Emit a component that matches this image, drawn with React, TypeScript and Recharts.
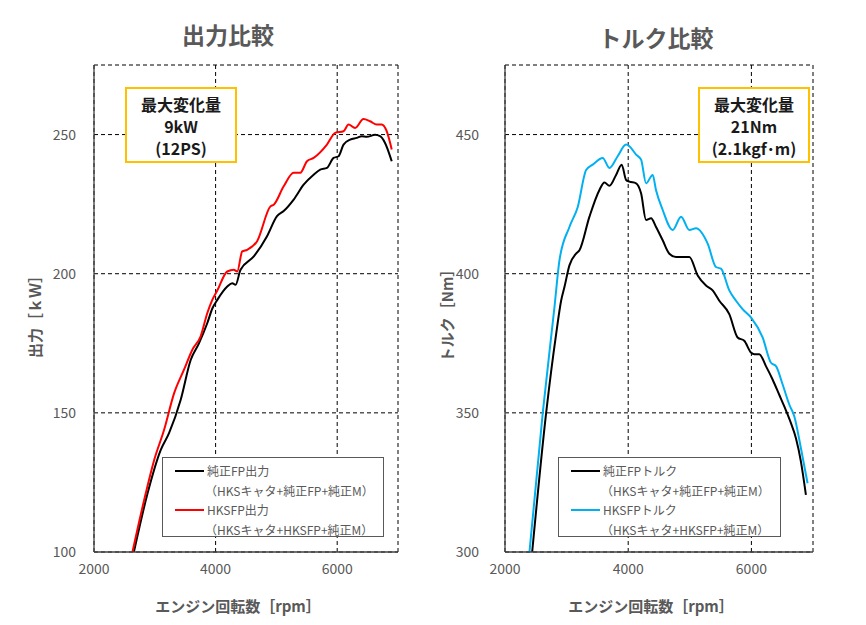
import React from 'react';
import { LineChart, Line, XAxis, YAxis, CartesianGrid } from 'recharts';

// 出力 (kW) — 純正FP / HKSFP
const stockPowerRpm = [2656, 2880, 3098, 3234, 3426, 3590, 3726, 3864, 3946, 4028, 4192, 4274, 4328, 4410, 4628, 4846, 5010, 5120, 5284, 5448, 5612, 5721, 5831, 5940, 6022, 6104, 6213, 6322, 6404, 6486, 6623, 6705, 6787, 6897];
const stockPowerKw = [100, 121, 136.7, 142.7, 154.7, 169, 175, 182.3, 187.5, 190.6, 195.4, 196.6, 196, 201.4, 206.2, 213.5, 220.7, 222.5, 226.6, 232, 235.6, 237.4, 238, 241.6, 242.2, 246.4, 248.2, 248.8, 249.4, 249.2, 249.9, 249.4, 247, 240.4];
const hksPowerRpm = [2633, 2825, 2989, 3153, 3317, 3480, 3618, 3754, 3864, 3946, 4028, 4192, 4300, 4356, 4438, 4520, 4683, 4902, 4956, 5120, 5284, 5393, 5503, 5612, 5831, 5967, 6104, 6186, 6295, 6432, 6541, 6650, 6732, 6814, 6897];
const hksPowerKw = [100, 118.7, 133, 143.9, 157, 165.5, 172.7, 177.5, 185.9, 190.6, 194, 200.8, 201.4, 200.8, 208, 208.6, 211.7, 224.2, 224.8, 231.4, 236.3, 236.3, 240.4, 241.6, 246.4, 250.6, 251.2, 253.6, 252.4, 255.6, 254.8, 253.6, 253.6, 251.2, 244.6];

// トルク (Nm) — 純正FP / HKSFP
const stockTorqueRpm = [2441, 2668, 2830, 2911, 2965, 3046, 3154, 3209, 3371, 3533, 3614, 3695, 3803, 3894, 3966, 4019, 4128, 4209, 4290, 4371, 4452, 4560, 4668, 4776, 4993, 5128, 5263, 5371, 5479, 5641, 5776, 5884, 5993, 6047, 6128, 6236, 6344, 6452, 6534, 6642, 6723, 6804, 6885];
const stockTorqueNm = [300, 350, 378.3, 390.3, 395.2, 403, 407.2, 408.4, 420.5, 430.1, 432.8, 431.6, 435.5, 439.2, 433.7, 433.1, 432.5, 428.9, 419.3, 419.9, 416.8, 412, 407.2, 406, 406, 399.4, 395.8, 394, 390.3, 385.5, 377.1, 375.9, 371.7, 371.1, 371.1, 366.8, 362, 356.5, 352.3, 346.3, 340.9, 332.5, 320.5];
const hksTorqueRpm = [2397, 2613, 2803, 2884, 3046, 3181, 3317, 3424, 3586, 3695, 3829, 3966, 4019, 4128, 4209, 4290, 4397, 4452, 4560, 4722, 4858, 4993, 5101, 5290, 5425, 5506, 5641, 5750, 5857, 5993, 6182, 6318, 6399, 6507, 6615, 6696, 6804, 6912];
const hksTorqueNm = [300, 350, 388, 404.8, 416.8, 424, 437.3, 439.2, 441.6, 438, 442.2, 446.4, 445.8, 442.8, 441, 432.5, 435.5, 430, 422.9, 415.7, 420.5, 415.7, 416.3, 410.8, 402.4, 401.8, 394, 390.3, 387.3, 384.3, 377.1, 368, 366.8, 360.2, 353, 348.8, 337.3, 324.7];

const rpmTicks = [2000, 4000, 6000];
const powerTicks = [100, 150, 200, 250];
const torqueTicks = [300, 350, 400, 450];

const toRows = (xs: number[], ys: number[]) => xs.map((rpm, i) => ({ rpm, v: ys[i] }));

const FONT = '"Noto Sans CJK JP", "Noto Sans", sans-serif';
const GRAY = '#595959';
const AXIS = '#404040';

type Item = { color: string; name: string; sub: string };

function LegendBox({ items, left, width }: { items: Item[]; left: number; width: number }) {
  return (
    <div style={{ position: 'absolute', left, top: 457, width, height: 80, border: `1px solid ${GRAY}`, background: '#fff', padding: '3px 0 0 12px', boxSizing: 'border-box', fontFamily: FONT, fontSize: 12, color: GRAY, lineHeight: '19.5px', whiteSpace: 'nowrap' }}>
      {items.map((it) => (
        <div key={it.name}>
          <div style={{ display: 'flex', alignItems: 'center' }}>
            <span style={{ display: 'inline-block', width: 29, height: 2, background: it.color, marginRight: 3 }} />
            {it.name}
          </div>
          <div style={{ paddingLeft: 30 }}>{it.sub}</div>
        </div>
      ))}
    </div>
  );
}

function Chart(props: {
  left: number; marginLeft: number; marginRight: number; yWidth: number; tickGap: number;
  domain: [number, number]; ticks: number[];
  a: { rpm: number; v: number }[]; b: { rpm: number; v: number }[];
  colorB: string;
}) {
  return (
    <div style={{ position: 'absolute', left: props.left, top: 0 }}>
      <LineChart width={433} height={625} margin={{ top: 65, right: props.marginRight, bottom: 43, left: props.marginLeft }}>
        <CartesianGrid stroke="#000" strokeDasharray="4 3" strokeWidth={1} />
        <XAxis type="number" dataKey="rpm" domain={[2000, 7000]} ticks={rpmTicks} allowDataOverflow
          stroke={AXIS} strokeWidth={1.3} tickLine={false} tickSize={0} tickMargin={12}
          tick={{ fill: GRAY, fontSize: 14, fontFamily: FONT }} height={30} />
        <XAxis xAxisId="top" orientation="top" type="number" domain={[2000, 7000]} ticks={rpmTicks}
          stroke={AXIS} strokeWidth={1.3} tick={false} tickLine={false} height={0} />
        <YAxis type="number" domain={props.domain} ticks={props.ticks} allowDataOverflow width={props.yWidth}
          stroke={AXIS} strokeWidth={1.3} tickLine={false} tickSize={0} tickMargin={props.tickGap}
          tick={{ fill: GRAY, fontSize: 14, fontFamily: FONT }} />
        <YAxis yAxisId="right" orientation="right" type="number" domain={props.domain}
          stroke={AXIS} strokeWidth={1.3} tick={false} tickLine={false} width={0} />
        <Line data={props.a} dataKey="v" type="monotone" stroke="#000" strokeWidth={2} dot={false} isAnimationActive={false} />
        <Line data={props.b} dataKey="v" type="monotone" stroke={props.colorB} strokeWidth={2} dot={false} isAnimationActive={false} />
      </LineChart>
    </div>
  );
}

const titleStyle: React.CSSProperties = { position: 'absolute', fontFamily: FONT, fontWeight: 700, fontSize: 23, color: GRAY, transform: 'translate(-50%, -50%)', whiteSpace: 'nowrap' };
const axisTitle: React.CSSProperties = { position: 'absolute', fontFamily: FONT, fontWeight: 700, fontSize: 15, color: GRAY, whiteSpace: 'nowrap' };
const noteStyle: React.CSSProperties = { position: 'absolute', border: '2px solid #FFC000', background: '#fff', fontFamily: FONT, fontWeight: 700, fontSize: 16, lineHeight: '22px', color: '#1a1a1a', textAlign: 'center', boxSizing: 'border-box', paddingTop: 4, whiteSpace: 'nowrap' };

function Note({ left, lines }: { left: number; lines: string[] }) {
  return (
    <div style={{ ...noteStyle, left, top: 87, width: 112, height: 76 }}>
      {lines.map((l) => <div key={l}>{l}</div>)}
    </div>
  );
}

export default function App() {
  return (
    <div style={{ position: 'absolute', left: 0, top: 0, width: 866, height: 625, background: '#fff', overflow: 'hidden' }}>
      <Chart left={0} marginLeft={54} marginRight={35} yWidth={40} tickGap={18}
        domain={[100, 275]} ticks={powerTicks}
        a={toRows(stockPowerRpm, stockPowerKw)} b={toRows(hksPowerRpm, hksPowerKw)} colorB="#FF0000" />
      <Chart left={433} marginLeft={32} marginRight={53} yWidth={40} tickGap={26}
        domain={[300, 475]} ticks={torqueTicks}
        a={toRows(stockTorqueRpm, stockTorqueNm)} b={toRows(hksTorqueRpm, hksTorqueNm)} colorB="#00B0F0" />

      <LegendBox left={162} width={222}
        items={[{ color: '#000', name: '純正FP出力', sub: '（HKSキャタ+純正FP+純正M）' }, { color: '#FF0000', name: 'HKSFP出力', sub: '（HKSキャタ+HKSFP+純正M）' }]} />
      <LegendBox left={558} width={223}
        items={[{ color: '#000', name: '純正FPトルク', sub: '（HKSキャタ+純正FP+純正M）' }, { color: '#00B0F0', name: 'HKSFPトルク', sub: '（HKSキャタ+HKSFP+純正M）' }]} />

      <div style={{ ...titleStyle, left: 228, top: 34 }}>出力比較</div>
      <div style={{ ...titleStyle, left: 656, top: 37 }}>トルク比較</div>

      <div style={{ ...axisTitle, left: 238, top: 605, transform: 'translate(-50%, -50%)' }}>エンジン回転数［rpm］</div>
      <div style={{ ...axisTitle, left: 651, top: 605, transform: 'translate(-50%, -50%)' }}>エンジン回転数［rpm］</div>
      <div style={{ ...axisTitle, left: 34, top: 313, transform: 'translate(-50%, -50%) rotate(-90deg)' }}>出力［ｋＷ］</div>
      <div style={{ ...axisTitle, left: 446, top: 312, transform: 'translate(-50%, -50%) rotate(-90deg)' }}>トルク［Nm］</div>

      <Note left={125} lines={['最大変化量', '9kW', '(12PS)']} />
      <Note left={698} lines={['最大変化量', '21Nm', '(2.1kgf･m)']} />
    </div>
  );
}
